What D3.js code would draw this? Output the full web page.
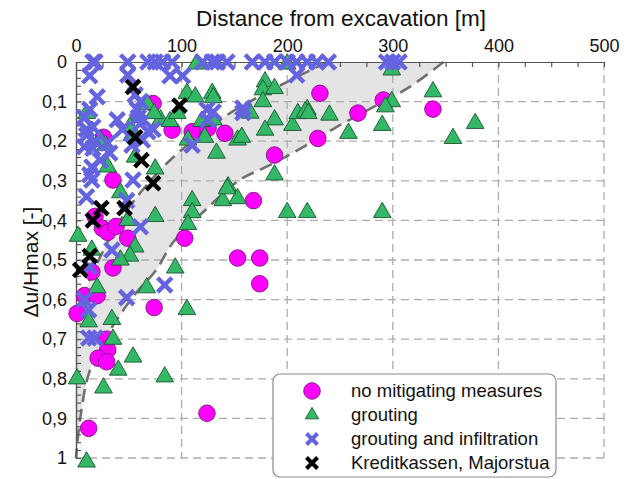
<!DOCTYPE html>
<html>
<head>
<meta charset="utf-8">
<script src="https://cdn.jsdelivr.net/npm/d3@7"></script>
<style>
body{margin:0;background:#fff;}
svg{display:block;font-family:"Liberation Sans",Arial,sans-serif;}
</style>
</head>
<body>
<div id="box-div"></div>
<script>
// tick values
const xTicks = [0,100,200,300,400,500];
const yTicks = [0,0.1,0.2,0.3,0.4,0.5,0.6,0.7,0.8,0.9,1];

// [distance m, du/Hmax]
const noMitigation = [
  [26,0.19],[73,0.105],[91,0.172],[110,0.176],[125,0.167],[141,0.18],[188,0.235],
  [231,0.079],[291,0.096],[267,0.129],[229,0.193],[338,0.119],[35,0.298],[18,0.39],
  [25,0.42],[30,0.43],[38,0.415],[49,0.445],[103,0.445],[168,0.35],[35,0.52],[15,0.53],
  [8,0.59],[20,0.59],[1,0.635],[74,0.62],[153,0.495],[174,0.495],[174,0.56],[29,0.70],
  [30,0.727],[21,0.748],[29,0.757],[124,0.887],[12,0.925]
];
const grouting = [
  [114,0.005],[200,0.005],[299,0.02],[338,0.075],[179,0.05],[177,0.07],[188,0.067],[177,0.10],
  [105,0.079],[113,0.088],[129,0.079],[130,0.09],[80,0.146],[89,0.15],[96,0.13],[119,0.15],
  [130,0.146],[106,0.197],[122,0.19],[133,0.23],[153,0.197],[165,0.129],[188,0.146],[179,0.172],
  [205,0.16],[210,0.13],[219,0.12],[188,0.285],[75,0.27],[217,0.126],[220,0.13],[240,0.134],
  [299,0.10],[293,0.113],[290,0.16],[258,0.18],[357,0.193],[378,0.155],[219,0.38],[290,0.38],
  [144,0.315],[139,0.35],[153,0.345],[110,0.35],[110,0.38],[106,0.41],[200,0.38],[94,0.52],
  [30,0.265],[42,0.33],[2,0.44],[49,0.40],[75,0.39],[15,0.475],[56,0.467],[51,0.49],[42,0.5],
  [67,0.57],[20,0.57],[105,0.625],[12,0.656],[34,0.65],[35,0.70],[54,0.745],[40,0.778],
  [1,0.80],[84,0.795],[26,0.823],[10,1.01],[10,0.13],[53,0.185],[28,0.21],[56,0.24],
  [68,0.108],[23,0.197],[59,0.14],[51,0.164],[157,0.19],[74,0.13],[143,0.32]
];
const groutingInfiltration = [
  [16,0],[18,0],[49,0],[68,0],[75,0],[82,0],[91,0],[120,0],[129,0],[134,0],[143,0],[167,0],
  [179,0],[188,0],[200,0],[209,0],[219,0],[228,0],[239,0],[294,0],[300,0],[306,0],
  [13,0.035],[49,0.033],[89,0.035],[101,0.035],[209,0.033],[20,0.088],[56,0.083],[61,0.1],
  [13,0.12],[58,0.12],[8,0.14],[39,0.146],[59,0.14],[61,0.155],[73,0.17],[68,0.176],
  [10,0.17],[16,0.164],[44,0.17],[10,0.185],[8,0.214],[16,0.218],[32,0.23],[53,0.21],
  [63,0.197],[18,0.2],[30,0.205],[124,0.12],[130,0.126],[125,0.146],[158,0.116],[158,0.128],
  [110,0.21],[15,0.265],[23,0.248],[15,0.298],[13,0.285],[10,0.34],[54,0.298],[48,0.35],
  [61,0.416],[34,0.475],[13,0.517],[48,0.595],[84,0.563],[8,0.6],[12,0.626],[12,0.697],[18,0.697]
];
const kreditkassen = [
  [54,0.063],[98,0.11],[56,0.19],[62,0.248],[73,0.306],[24,0.369],[46,0.369],[16,0.40],[13,0.49],[4,0.525]
];

// envelope of the grey band
const upperBound = [[238,0],[200,0.05],[162,0.104],[143,0.134],[100,0.222],[80,0.272],[55,0.35],[35,0.43],[18,0.52],[0,0.63]];
const lowerBound = [[348,0],[316,0.063],[280,0.116],[247,0.164],[215,0.215],[184,0.26],[155,0.298],[120,0.38],[92,0.455],[76,0.525],[57,0.583],[34,0.67],[13,0.78],[4,0.9],[0,1]];

const legendLabels = ['no mitigating measures','grouting','grouting and infiltration','Kreditkassen, Majorstua'];

const dms = {
    width: 630,
    height: 479,
    margin: {top: 62, right: 26, bottom: 21, left: 76}
};
dms.contentWidth = dms.width - dms.margin.left - dms.margin.right;
dms.contentHeight = dms.height - dms.margin.top - dms.margin.bottom;

const box = d3.select('#box-div').append('svg')
    .attr('width', dms.width)
    .attr('height', dms.height);

const content = box.append('g')
    .attr('transform', `translate(${dms.margin.left},${dms.margin.top})`);

const xScale = d3.scaleLinear().domain([0,500]).range([0,dms.contentWidth]);
const yScale = d3.scaleLinear().domain([0,1]).range([0,dms.contentHeight]);

// grey band
const lineGen = d3.line().x(d => xScale(d[0])).y(d => yScale(d[1])).curve(d3.curveCatmullRom);
const bandPath = lineGen(upperBound) + `L${xScale(0)},${yScale(1)}` +
    lineGen(lowerBound.slice().reverse()).replace(/^M/, 'L') + 'Z';
content.append('path').attr('d', bandPath).attr('fill', '#e4e4e4');

// grid
const grid = content.append('g').attr('stroke', '#adadad').attr('stroke-width', 1.3).attr('stroke-dasharray', '8,5');
grid.selectAll('.vg').data(xTicks.slice(1)).join('line')
    .attr('x1', d => xScale(d)).attr('x2', d => xScale(d))
    .attr('y1', 0).attr('y2', dms.contentHeight);
grid.selectAll('.hg').data(yTicks.slice(1)).join('line')
    .attr('y1', d => yScale(d)).attr('y2', d => yScale(d))
    .attr('x1', 0).attr('x2', dms.contentWidth);

// dashed envelope lines
[upperBound, lowerBound].forEach(b => {
    content.append('path').attr('d', lineGen(b))
        .attr('fill', 'none').attr('stroke', '#707070')
        .attr('stroke-width', 2.6).attr('stroke-dasharray', '13,7');
});

// axes
const xMinor = d3.axisTop(xScale).tickValues(d3.range(0, 501, 25)).tickSize(-5).tickSizeOuter(0).tickFormat('');
const xAxis = d3.axisTop(xScale).tickValues(xTicks).tickSize(0).tickPadding(10).tickSizeOuter(0);
const yMinor = d3.axisLeft(yScale).tickValues(d3.range(0, 51).map(i => i/50)).tickSize(-5).tickSizeOuter(0).tickFormat('');
const yAxis = d3.axisLeft(yScale).tickValues(yTicks).tickSize(0).tickPadding(9).tickSizeOuter(0)
    .tickFormat(d => d === 0 ? '0' : d === 1 ? '1' : d.toFixed(1).replace('.', ','));

[xMinor, xAxis].forEach(a => content.append('g').call(a));
[yMinor, yAxis].forEach(a => content.append('g').call(a));
content.selectAll('.domain, .tick line').attr('stroke', '#555').attr('stroke-width', 1.2);
content.selectAll('.tick text').attr('font-size', 18).attr('fill', '#111').style('font-family', '"Liberation Sans",Arial,sans-serif');

// markers
const triPath = d3.symbol(d3.symbolTriangle).size(135)();
const xPath = s => `M${-s},${-s}L${s},${s}M${-s},${s}L${s},${-s}`;

content.append('g').selectAll('circle').data(noMitigation).join('circle')
    .attr('cx', d => xScale(d[0])).attr('cy', d => yScale(d[1])).attr('r', 8.3)
    .attr('fill', '#ff00ff').attr('stroke', '#7a1a7a').attr('stroke-width', 0.9);

content.append('g').selectAll('path').data(grouting).join('path')
    .attr('d', triPath)
    .attr('transform', d => `translate(${xScale(d[0])},${yScale(d[1])})`)
    .attr('fill', '#33b865').attr('stroke', '#1d5530').attr('stroke-width', 0.9);

content.append('g').selectAll('path').data(groutingInfiltration).join('path')
    .attr('d', xPath(7.2))
    .attr('transform', d => `translate(${xScale(d[0])},${yScale(d[1])})`)
    .attr('stroke', '#6464e0').attr('stroke-width', 4.4).attr('fill', 'none');

content.append('g').selectAll('path').data(kreditkassen).join('path')
    .attr('d', xPath(6.8))
    .attr('transform', d => `translate(${xScale(d[0])},${yScale(d[1])})`)
    .attr('stroke', '#000').attr('stroke-width', 4.4).attr('fill', 'none');

// titles
box.append('text')
    .attr('x', 341).attr('y', 26)
    .attr('text-anchor', 'middle').attr('font-size', 22.5).attr('fill', '#111')
    .text('Distance from excavation [m]');
box.append('text')
    .attr('transform', 'translate(38,262) rotate(-90)')
    .attr('text-anchor', 'middle').attr('font-size', 21).attr('fill', '#111')
    .text('\u0394u/Hmax [-]');

// legend
const legend = box.append('g');
legend.append('rect')
    .attr('x', 273).attr('y', 374).attr('width', 283).attr('height', 103).attr('rx', 7)
    .attr('fill', '#fff').attr('stroke', '#8a8a8a').attr('stroke-width', 1.2);
const rowY = i => 391 + i * 24;
legend.append('circle').attr('cx', 312).attr('cy', rowY(0)).attr('r', 8.3)
    .attr('fill', '#ff00ff').attr('stroke', '#7a1a7a').attr('stroke-width', 0.9);
legend.append('path').attr('d', d3.symbol(d3.symbolTriangle).size(75)())
    .attr('transform', `translate(312,${rowY(1)})`)
    .attr('fill', '#33b865').attr('stroke', '#1d5530').attr('stroke-width', 0.9);
legend.append('path').attr('d', xPath(5.5))
    .attr('transform', `translate(312,${rowY(2)})`)
    .attr('stroke', '#6464e0').attr('stroke-width', 4);
legend.append('path').attr('d', xPath(5.5))
    .attr('transform', `translate(312,${rowY(3)})`)
    .attr('stroke', '#000').attr('stroke-width', 4);
legend.selectAll('.lt').data(legendLabels).join('text')
    .attr('x', 351).attr('y', (d, i) => rowY(i) + 6)
    .attr('font-size', 18.5).attr('fill', '#111')
    .text(d => d);
</script>
</body>
</html>
